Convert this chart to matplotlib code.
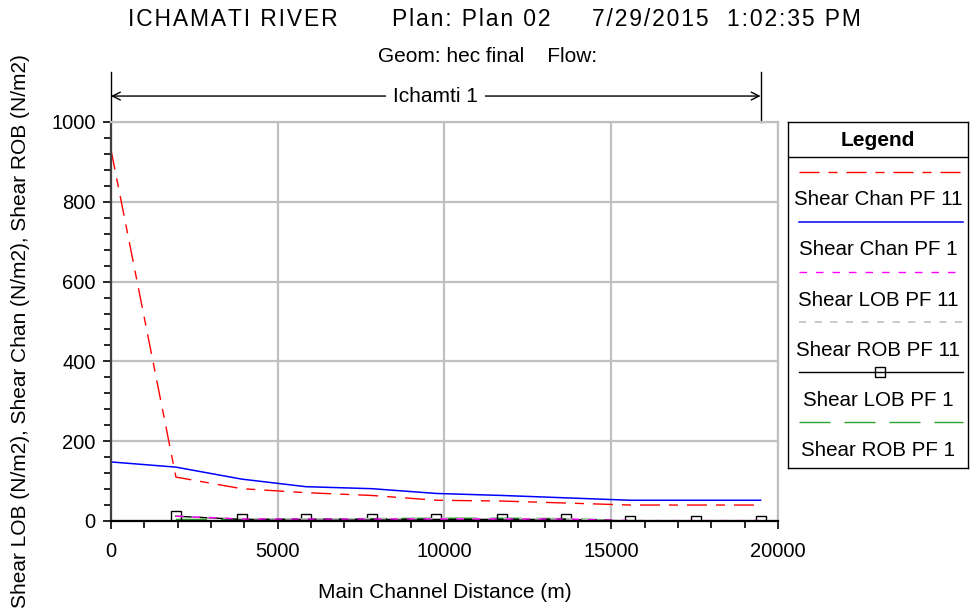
import matplotlib
matplotlib.use("Agg")
import matplotlib.pyplot as plt
from matplotlib.ticker import MultipleLocator

plt.rcParams['font.family'] = ['Liberation Sans', 'DejaVu Sans']

# Data
chan_x = [0, 1947, 3917, 5842, 7820, 9759, 11725, 13650, 15575, 17540, 19478]
chan_pf11 = [930, 110, 81, 71, 64, 52, 50, 45, 40, 40, 40]
chan_pf1 = [148, 135, 105, 86, 81, 69, 64, 58, 52, 52, 52]

ob_x = [1947, 3917, 5842, 7820, 9759, 11725, 13650, 15575, 17540, 19478]
lob_pf11 = [12, 5, 5, 5, 5, 5, 5, 1, 1, 1]
rob_pf11 = [12, 6, 5, 6, 6, 6, 5, 0, 0, 0]
lob_pf1 = [12, 4, 4, 4, 4, 4, 4, 0, 0, 0]
rob_pf1 = [4, 4, 5, 6, 7, 7, 6, 1, 0, 0]

reach_name = "Ichamti 1"
title_parts = ["ICHAMATI RIVER", "Plan: Plan 02", "7/29/2015  1:02:35 PM"]
subtitle = "Geom: hec final    Flow:"

px = 0.72  # pixel -> point at 100 dpi

series = [
    ("Shear Chan PF 11", chan_x, chan_pf11,
     dict(color='#ff0000', lw=1.0, dashes=(20 * px, 9 * px, 9 * px, 9 * px))),
    ("Shear Chan PF 1", chan_x, chan_pf1,
     dict(color='#0000ff', lw=1.1, linestyle='-')),
    ("Shear LOB PF 11", ob_x, lob_pf11,
     dict(color='#ff00ff', lw=1.0, dashes=(7.5 * px, 9 * px))),
    ("Shear ROB PF 11", ob_x, rob_pf11,
     dict(color='#c0c0c0', lw=1.2, dashes=(6 * px, 7 * px))),
    ("Shear LOB PF 1", ob_x, lob_pf1,
     dict(color='black', lw=1.0, linestyle='-', marker='s', markersize=6.5,
          markerfacecolor='none', markeredgecolor='black', markeredgewidth=1.0)),
    ("Shear ROB PF 1", ob_x, rob_pf1,
     dict(color='#2ca02c', lw=1.0, dashes=(31 * px, 14 * px))),
]

fig = plt.figure(figsize=(9.72, 6.09), dpi=100)
ax = fig.add_axes([0.1142, 0.1445, 0.6862, 0.6552])

# draw order: low series first, channel lines on top
for name, xs, ys, st in series[::-1]:
    ax.plot(xs, ys, **st)

ax.set_xlim(0, 20000)
ax.set_ylim(0, 1000)
ax.xaxis.set_major_locator(MultipleLocator(5000))
ax.xaxis.set_minor_locator(MultipleLocator(1000))
ax.yaxis.set_major_locator(MultipleLocator(200))
ax.yaxis.set_minor_locator(MultipleLocator(40))
ax.grid(True, which='major', color='#c0c0c0', lw=1.6)
ax.set_axisbelow(True)
ax.tick_params(which='both', direction='out', labelsize=14.5, colors='black')
ax.tick_params(which='major', length=6, width=1.2)
ax.tick_params(which='minor', length=5, width=1.2)
ax.tick_params(axis='x', which='major', pad=9)
ax.tick_params(axis='y', which='major', pad=5)
for s in ['top', 'right']:
    ax.spines[s].set_color('#c0c0c0')
    ax.spines[s].set_linewidth(1.6)
ax.spines['left'].set_color('#404040')
ax.spines['left'].set_linewidth(1.6)
ax.spines['bottom'].set_color('black')
ax.spines['bottom'].set_linewidth(1.6)

fig.text(0.4573, 0.0263, "Main Channel Distance (m)", ha='center', va='center', fontsize=15)
fig.text(0.021, 1 - 331 / 609, "Shear LOB (N/m2), Shear Chan (N/m2), Shear ROB (N/m2)",
         rotation=90, ha='center', va='center', fontsize=15)

# titles (wide letter spacing via hair spaces)
hair = '\u200a'
for xc, part in zip([233, 471, 726], title_parts):
    fig.text(xc / 972, 1 - 20 / 609, hair.join(part), ha='center', va='center',
             fontsize=16.5)
fig.text(488 / 972, 1 - 56 / 609, subtitle, ha='center', va='center', fontsize=15)

# reach extent marker above the plot
trans = ax.get_xaxis_transform()
x0, x1 = chan_x[0], chan_x[-1]
for xv in (x0, x1):
    ax.plot([xv, xv], [1.0, 1.125], transform=trans, color='black', lw=1.0, clip_on=False)
ax.annotate('', xy=(x0, 1.065), xytext=(x1, 1.065), xycoords=trans, textcoords=trans,
            arrowprops=dict(arrowstyle='<->', lw=1.0, color='black', shrinkA=0, shrinkB=0,
                            mutation_scale=14))
ax.text((x0 + x1) / 2, 1.065, reach_name, transform=trans, ha='center', va='center',
        fontsize=15, bbox=dict(facecolor='white', edgecolor='none', pad=5))

# manual legend box
lax = fig.add_axes([0.8107, 0.2315, 0.1852, 0.5682])
lax.set_xlim(0, 1)
lax.set_ylim(468, 122)
lax.set_xticks([])
lax.set_yticks([])
for s in lax.spines.values():
    s.set_color('black')
    s.set_linewidth(1.0)
lax.text(0.5, 141, "Legend", ha='center', va='center', fontsize=15, fontweight='bold')
lax.plot([0, 1], [157, 157], color='black', lw=1.0)
for i, (name, xs, ys, st) in enumerate(series):
    yl = 172 + 50 * i
    lax.plot([0.06, 0.97], [yl, yl], **{k: v for k, v in st.items()
                                         if not k.startswith('marker')})
    if 'marker' in st:
        lax.plot([0.51], [yl], marker=st['marker'], markersize=st['markersize'],
                 markerfacecolor='none', markeredgecolor=st['markeredgecolor'],
                 markeredgewidth=st['markeredgewidth'], linestyle='none')
    lax.text(0.5, 200 + 50 * i, name, ha='center', va='center', fontsize=14.8)

fig.savefig('out.png', dpi=100)
